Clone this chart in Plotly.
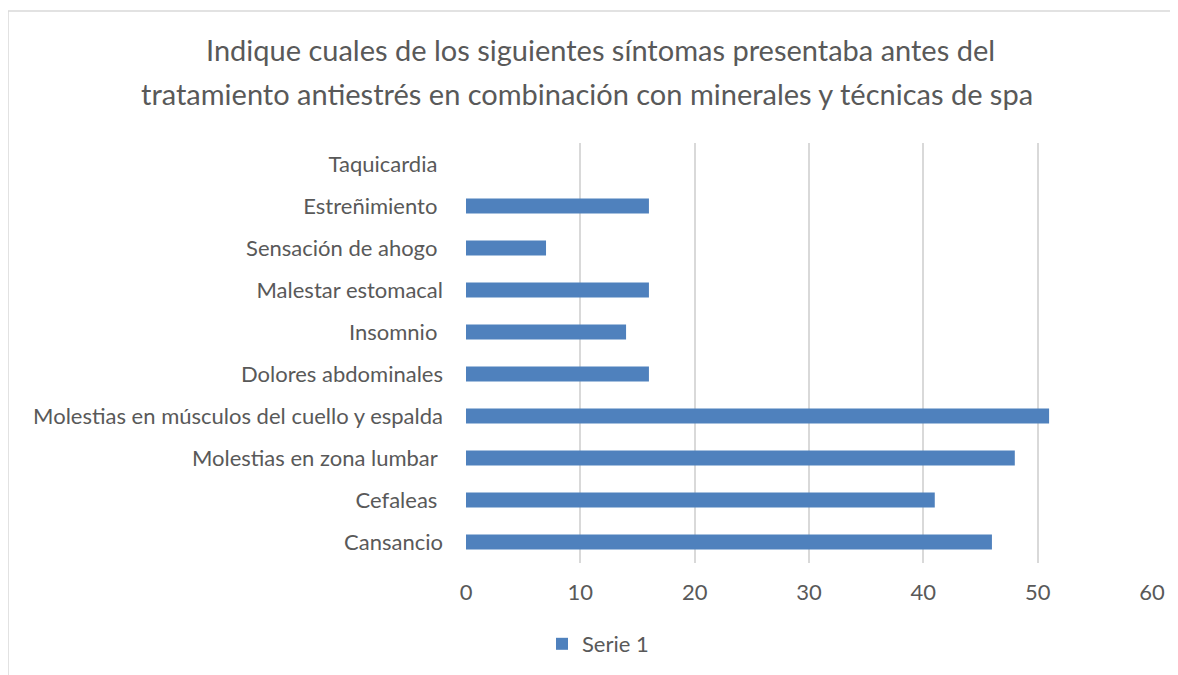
import plotly.graph_objects as go

categories = ["Cansancio", "Cefaleas ", "Molestias en zona lumbar ",
              "Molestias en músculos del cuello y espalda", "Dolores abdominales",
              "Insomnio ", "Malestar estomacal", "Sensación de ahogo ",
              "Estreñimiento ", "Taquicardia "]
values = [46, 41, 48, 51, 16, 14, 16, 7, 16, 0]
series_name = "Serie 1"
x_ticks = [0, 10, 20, 30, 40, 50, 60]
title_lines = ["Indique cuales de los siguientes síntomas presentaba antes del",
               "tratamiento antiestrés en combinación con minerales y técnicas de spa"]

FONT = "Lato"
TXT = "#595959"
OFF = 8  # page body margin

labels = [c.rstrip() + ("\u00a0" if c.endswith(" ") else "") for c in categories]

fig = go.Figure()
fig.add_trace(go.Bar(
    y=labels, x=values, orientation="h", name=series_name,
    marker=dict(color="#4f81bd", line=dict(width=0)),
    showlegend=True,
))

W, H = 1178, 675
L, R, T, B = 466 - OFF, 1152 - OFF, 143 - OFF, 563 - OFF


def px_x(x):
    return (x - OFF - L) / (R - L)


def px_y(y):
    return (B - (y - OFF)) / (B - T)


annotations = []
for txt, cx, cy in zip(title_lines, [600, 587], [50, 93]):
    annotations.append(dict(text=txt, xref="paper", yref="paper", x=px_x(cx), y=px_y(cy),
                            xanchor="center", yanchor="middle", showarrow=False,
                            font=dict(family=FONT, size=29, color=TXT)))

fig.update_layout(
    width=W, height=H,
    margin=dict(l=L, r=W - R, t=T, b=H - B, autoexpand=False),
    paper_bgcolor="white", plot_bgcolor="white",
    font=dict(family=FONT, color=TXT, size=22),
    bargap=0.64,
    xaxis=dict(range=[0, 60], tickvals=x_ticks, showgrid=True, gridcolor="#d9d9d9",
               gridwidth=1.5, zeroline=False, showline=False, ticks="",
               ticklabelstandoff=14, tickfont=dict(size=22, color=TXT)),
    yaxis=dict(showgrid=False, zeroline=False, showline=False, ticks="",
               ticklabelstandoff=22, tickfont=dict(size=22, color=TXT),
               categoryorder="array", categoryarray=labels),
    legend=dict(orientation="h", x=px_x(542), xanchor="left",
                y=px_y(644), yanchor="middle",
                font=dict(size=22, color=TXT), itemwidth=30),
    annotations=annotations,
    shapes=[dict(type="rect", xref="paper", yref="paper",
                 x0=px_x(8), x1=px_x(1200),
                 y0=px_y(700), y1=px_y(11),
                 line=dict(color="#d9d9d9", width=1.5), fillcolor="rgba(0,0,0,0)",
                 layer="below")],
)
fig.write_html("out.html")
